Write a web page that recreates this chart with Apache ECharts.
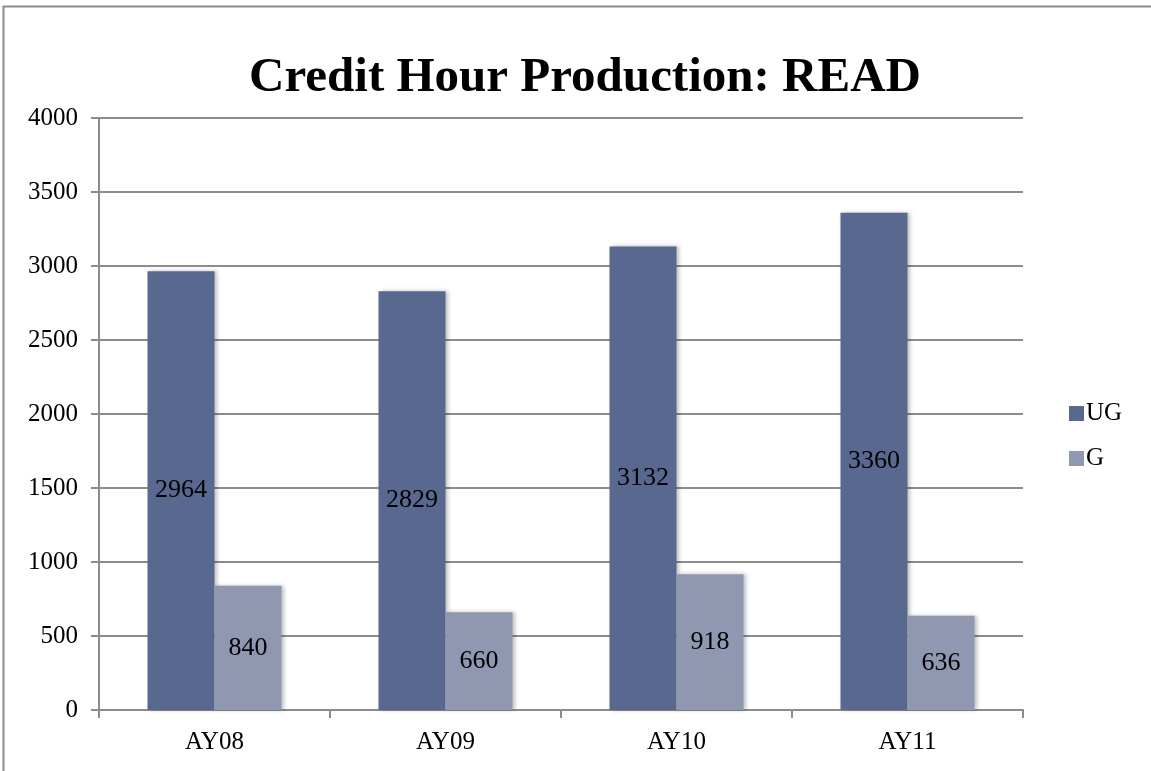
<!DOCTYPE html>
<html>
<head>
<meta charset="utf-8">
<script src="https://cdn.jsdelivr.net/npm/echarts@6/dist/echarts.min.js"></script>
<style>
html,body{margin:0;padding:0;background:#fff;}
#chart{width:1151px;height:771px;}
</style>
</head>
<body>
<div id="chart"></div>
<script>
var categories = ['AY08', 'AY09', 'AY10', 'AY11'];
var ugValues = [2964, 2829, 3132, 3360];
var gValues = [840, 660, 918, 636];
var seriesNames = ['UG', 'G'];

var chart = echarts.init(document.getElementById('chart'));
var font = '"Liberation Serif", "DejaVu Serif", serif';
var labelStyle = {show: true, position: 'inside', color: '#000', fontFamily: font, fontSize: 26};
chart.setOption({
  animation: false,
  backgroundColor: '#fff',
  graphic: [
    {type: 'polyline', shape: {points: [[3.5, 771], [3.5, 6.5], [1151, 6.5]]}, style: {stroke: '#8c8c8c', lineWidth: 2, fill: null}}
  ],
  title: {
    text: 'Credit Hour Production: READ',
    left: 580, top: 49, textAlign: 'center',
    textStyle: {fontFamily: font, fontWeight: 'bold', fontSize: 49, color: '#000'}
  },
  legend: {
    orient: 'vertical', left: 1064, top: 396, itemWidth: 15, itemHeight: 15, itemGap: 20,
    icon: 'rect',
    textStyle: {fontFamily: font, fontSize: 25, color: '#000', padding: [0, 0, 0, -3]},
    data: seriesNames
  },
  grid: {left: 99, right: 128, top: 118, bottom: 61, containLabel: false},
  xAxis: {
    type: 'category', data: categories,
    axisLine: {lineStyle: {color: '#8c8c8c', width: 2}},
    axisTick: {show: true, length: 8, lineStyle: {color: '#8c8c8c', width: 2}},
    axisLabel: {fontFamily: font, fontSize: 25, color: '#000', margin: 20}
  },
  yAxis: {
    type: 'value', min: 0, max: 4000, interval: 500,
    axisLine: {show: true, lineStyle: {color: '#8c8c8c', width: 2}},
    axisTick: {show: true, length: 8, lineStyle: {color: '#8c8c8c', width: 2}},
    splitLine: {lineStyle: {color: '#8c8c8c', width: 2}},
    axisLabel: {fontFamily: font, fontSize: 25, color: '#000', margin: 21, formatter: function (v) { return String(v); }}
  },
  series: [
    {name: 'UG', type: 'bar', data: ugValues, barWidth: 67, barGap: '0%',
     itemStyle: {color: '#58688f', shadowColor: 'rgba(0,0,0,0.25)', shadowBlur: 4, shadowOffsetX: 2},
     label: labelStyle},
    {name: 'G', type: 'bar', data: gValues, barWidth: 67,
     itemStyle: {color: '#9097b0', shadowColor: 'rgba(0,0,0,0.25)', shadowBlur: 4, shadowOffsetX: 2},
     label: labelStyle}
  ]
});
</script>
</body>
</html>
